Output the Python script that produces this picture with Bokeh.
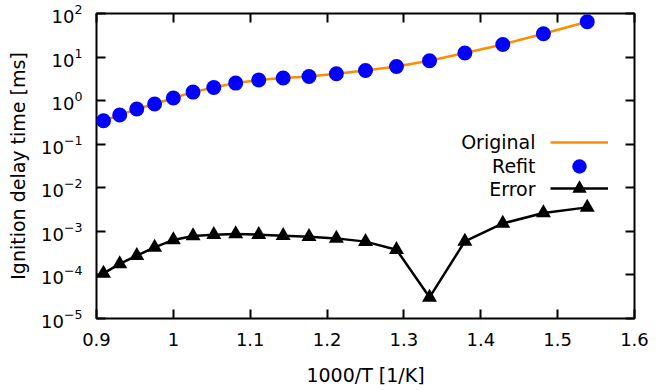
from bokeh.plotting import figure
from bokeh.models import (FixedTicker, LinearAxis, LogAxis, LogTickFormatter, CustomJSTickFormatter,
                          Legend, LegendItem, Label, Range1d)
from bokeh.embed import file_html
from bokeh.resources import INLINE

# ---- data ----
inv_T = [0.9091, 0.9302, 0.9524, 0.9756, 1.0000, 1.0256, 1.0526, 1.0811, 1.1111, 1.1429,
         1.1765, 1.2121, 1.2500, 1.2903, 1.3333, 1.3793, 1.4286, 1.4815, 1.5385]
original = [0.346, 0.468, 0.641, 0.836, 1.15, 1.57, 2.01, 2.53, 2.97, 3.30,
            3.59, 4.14, 4.93, 6.09, 8.22, 12.4, 19.5, 34.2, 64.5]
refit = [0.346, 0.468, 0.641, 0.836, 1.15, 1.57, 2.01, 2.53, 2.97, 3.30,
         3.59, 4.14, 4.93, 6.09, 8.22, 12.4, 19.5, 34.2, 64.5]
error = [1.09e-4, 1.79e-4, 2.77e-4, 4.30e-4, 6.35e-4, 7.84e-4, 8.40e-4, 8.71e-4, 8.40e-4, 7.96e-4,
         7.55e-4, 6.90e-4, 5.81e-4, 3.80e-4, 3.06e-5, 5.90e-4, 1.52e-3, 2.64e-3, 3.55e-3]
x_ticks = [0.9, 1.0, 1.1, 1.2, 1.3, 1.4, 1.5, 1.6]
x_tick_labels = ["0.9", "1", "1.1", "1.2", "1.3", "1.4", "1.5", "1.6"]
y_ticks = [1e-5, 1e-4, 1e-3, 1e-2, 1e-1, 1e0, 1e1, 1e2]
legend_labels = ["Original", "Refit", "Error"]

FONT = "DejaVu Sans"
TICK_FS = "18px"
LAB_FS = "19px"

p = figure(width=664, height=390, y_axis_type="log",
           x_range=Range1d(0.9, 1.6), y_range=Range1d(1e-5, 1e2),
           output_backend="svg", toolbar_location=None,
           min_border_left=96, min_border_right=30, min_border_top=13, min_border_bottom=72)
p.grid.visible = False
p.outline_line_color = "black"
p.outline_line_width = 2
p.background_fill_color = "white"
p.border_fill_color = "white"

xt = FixedTicker(ticks=x_ticks, minor_ticks=[])
yt = FixedTicker(ticks=y_ticks, minor_ticks=[])

def style_axis(ax):
    ax.axis_line_color = None
    ax.major_tick_in = 9
    ax.major_tick_out = 0
    ax.major_tick_line_width = 2
    ax.major_tick_line_color = "black"
    ax.minor_tick_line_color = None
    ax.major_label_text_font = FONT
    ax.major_label_text_font_size = TICK_FS
    ax.major_label_text_color = "black"
    ax.axis_label_text_font = FONT
    ax.axis_label_text_font_size = LAB_FS
    ax.axis_label_text_font_style = "normal"
    ax.axis_label_text_color = "black"

xa = p.xaxis[0]
xa.ticker = xt
xa.major_label_overrides = {t: s for t, s in zip(x_ticks, x_tick_labels)}
xa.axis_label = "1000/T [1/K]"
style_axis(xa)
xa.major_label_standoff = 14
xa.axis_label_standoff = 15

ya = p.yaxis[0]
ya.ticker = yt
ya.formatter = LogTickFormatter()
ya.axis_label = "Ignition delay time [ms]"
style_axis(ya)
ya.major_label_standoff = 14
ya.axis_label_standoff = 9

blank = "return ''"
top = LinearAxis(ticker=xt, formatter=CustomJSTickFormatter(code=blank))
style_axis(top)
top.major_label_standoff = 0
top.major_label_text_font_size = "0px"
p.add_layout(top, "above")

right = LogAxis(ticker=yt, formatter=CustomJSTickFormatter(code=blank))
style_axis(right)
right.major_label_standoff = 0
right.major_label_text_font_size = "0px"
p.add_layout(right, "right")

# ---- series ----
orig_line = p.line(inv_T, original, line_color="#ff8c00", line_width=2.5)
refit_pts = p.scatter(inv_T, refit, marker="circle", size=15, fill_color="#0000ff", line_color=None)
err_line = p.line(inv_T, error, line_color="black", line_width=2.5)
err_pts = p.scatter(inv_T, error, marker="triangle", size=15, fill_color="black", line_color=None)

# ---- legend (gnuplot style: text left, sample right) ----
item_renderers = [[orig_line], [refit_pts], [err_line, err_pts]]
item_y = [176.3, 152.3, 129.7]   # screen offsets from frame bottom
for lbl, rends, yy in zip(legend_labels, item_renderers, item_y):
    lg = Legend(items=[LegendItem(label="", renderers=rends)],
                location=(454, yy - 18), glyph_width=58, glyph_height=36, spacing=0,
                padding=0, margin=0, label_standoff=0, label_width=0, label_height=0,
                label_text_font_size="0px",
                background_fill_alpha=0, border_line_alpha=0)
    p.add_layout(lg)
    p.add_layout(Label(x=439, y=yy, x_units="screen", y_units="screen", text=lbl,
                       text_align="right", text_baseline="middle",
                       text_font=FONT, text_font_size=LAB_FS, text_color="black"))

open("out.html", "w").write(file_html(p, INLINE))
